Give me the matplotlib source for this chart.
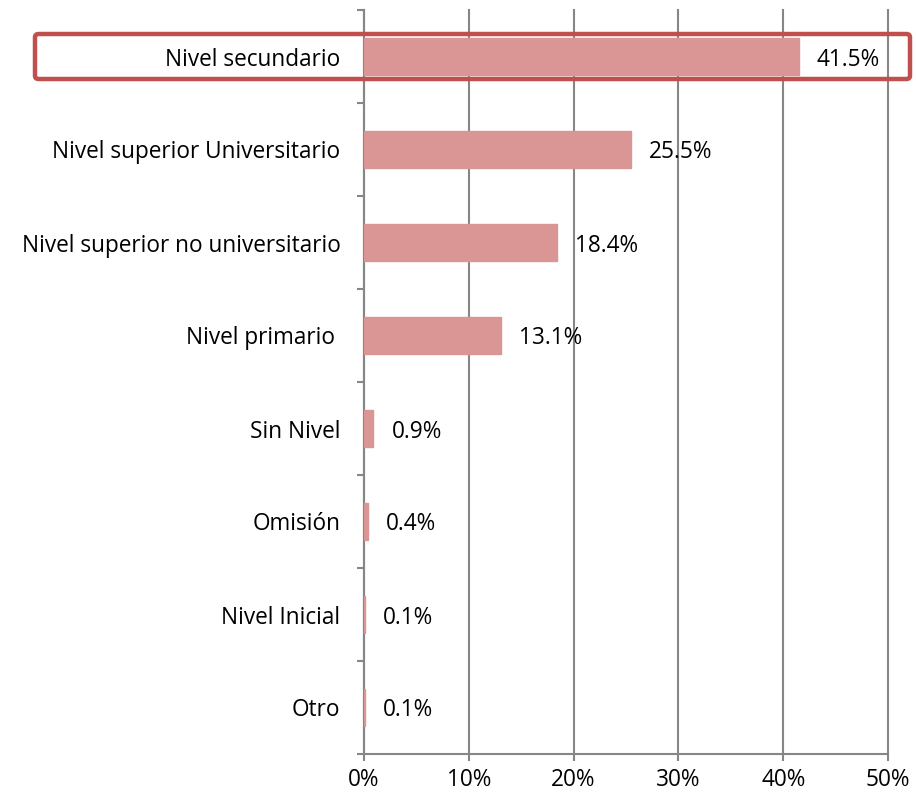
import matplotlib
matplotlib.use("Agg")
import matplotlib.pyplot as plt
from matplotlib.patches import FancyBboxPatch

categories = ["Nivel secundario", "Nivel superior Universitario", "Nivel superior no universitario",
              "Nivel primario ", "Sin Nivel", "Omisión", "Nivel Inicial", "Otro"]
values = [41.5, 25.5, 18.4, 13.1, 0.9, 0.4, 0.1, 0.1]
value_labels = ["41.5%", "25.5%", "18.4%", "13.1%", "0.9%", "0.4%", "0.1%", "0.1%"]
xticks = [0, 10, 20, 30, 40, 50]
xtick_labels = ["0%", "10%", "20%", "30%", "40%", "50%"]

plt.rcParams['font.family'] = ['Open Sans', 'DejaVu Sans']
FS = 16.3

fig = plt.figure(figsize=(9.16, 8), dpi=100)
ax = fig.add_axes([364/916, 1-754/800, (888-364)/916, (754-10)/800])

n = len(categories)
ypos = list(range(n))
ax.barh(ypos, values, height=0.39, color="#D99694", edgecolor="#D99694", linewidth=1.0, zorder=3)
ax.set_ylim(n - 0.5, -0.5)
ax.set_xlim(0, 50)

gray = "#868686"
ax.set_xticks(xticks)
ax.set_xticklabels(xtick_labels, fontsize=FS)
ax.grid(axis="x", color=gray, linewidth=1.5, zorder=1)
for gl in ax.get_xgridlines():
    gl.set_clip_on(False)
ax.set_axisbelow(True)

ax.set_yticks([i - 0.5 for i in range(n + 1)], minor=False)
ax.set_yticklabels([])
ax.set_yticks(ypos, minor=True)
ax.set_yticklabels(categories, minor=True, fontsize=FS)
ax.tick_params(axis="y", which="minor", length=0, pad=17)
ax.tick_params(axis="y", which="major", length=5, width=1.5, color=gray, direction="out")
ax.tick_params(axis="x", length=5, width=1.5, color=gray, direction="out", pad=5)

for s in ["top", "right"]:
    ax.spines[s].set_visible(False)
for s in ["left", "bottom"]:
    ax.spines[s].set_color(gray)
    ax.spines[s].set_linewidth(1.5)
    ax.spines[s].set_zorder(2)

for y, v, lab in zip(ypos, values, value_labels):
    ax.annotate(lab, xy=(v, y), xytext=(18, -3), textcoords="offset pixels",
                va="center", ha="left", fontsize=FS, zorder=4)

box = FancyBboxPatch((35/916, 1-79/800), (910-35)/916, (79-34)/800,
                     boxstyle="round,pad=0,rounding_size=0.004", transform=fig.transFigure,
                     facecolor="none", edgecolor="#C0504D", linewidth=3.2, zorder=0.5)
fig.patches.append(box)

fig.savefig("out.png", dpi=100)
